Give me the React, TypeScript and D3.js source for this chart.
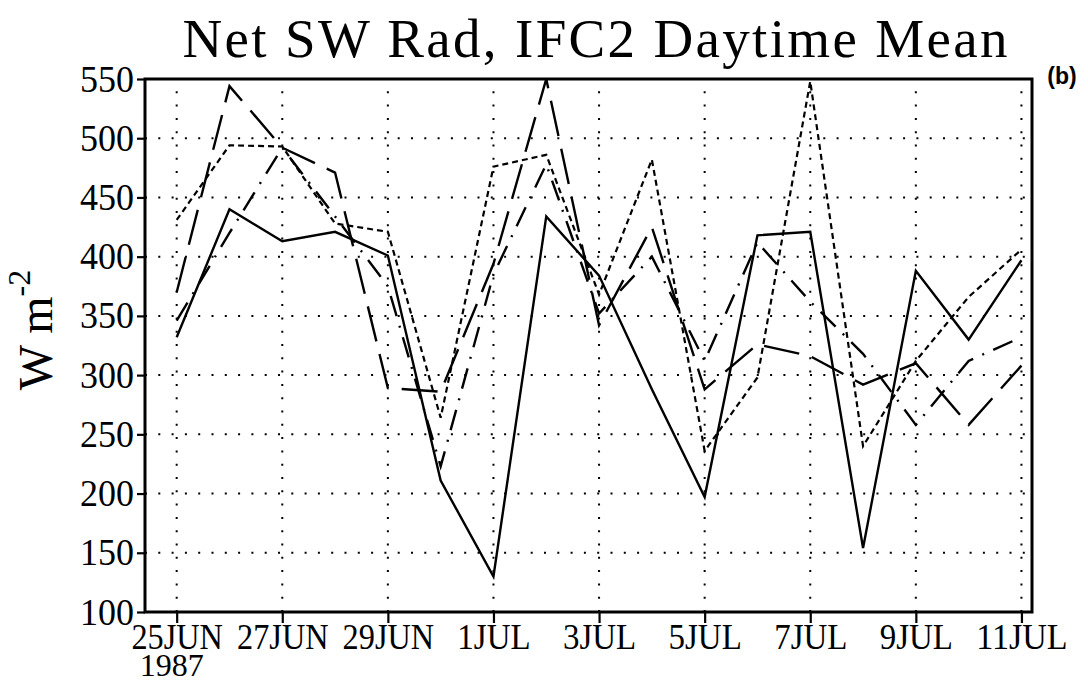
import * as d3 from "d3";
import { useEffect, useRef } from "react";

// daily values, 25 Jun - 11 Jul 1987
const dates = [
  "1987-06-25", "1987-06-26", "1987-06-27", "1987-06-28", "1987-06-29",
  "1987-06-30", "1987-07-01", "1987-07-02", "1987-07-03", "1987-07-04",
  "1987-07-05", "1987-07-06", "1987-07-07", "1987-07-08", "1987-07-09",
  "1987-07-10", "1987-07-11",
];
const solidSeries = [332, 440, 413, 421, 401, 211, 130, 434, 384, 288, 197, 418, 421, 154, 388, 330, 397];
const shortDashSeries = [431, 494, 493, 428, 421, 264, 476, 486, 368, 482, 236, 298, 548, 240, 312, 366, 406];
const longDashSeries = [370, 544, 492, 471, 289, 286, 394, 550, 342, 425, 288, 326, 316, 292, 310, 258, 308];
const dashDotSeries = [346, 420, 492, 434, 375, 223, 385, 478, 352, 400, 312, 412, 362, 318, 258, 312, 332];

const xTickDates = [
  "1987-06-25", "1987-06-27", "1987-06-29", "1987-07-01", "1987-07-03",
  "1987-07-05", "1987-07-07", "1987-07-09", "1987-07-11",
];
const yTicks = [100, 150, 200, 250, 300, 350, 400, 450, 500, 550];

const width = 1088;
const height = 683;
const margin = { top: 79, right: 56, bottom: 71, left: 145 };
const font = "'Liberation Serif', 'DejaVu Serif', serif";

const parse = d3.timeParse("%Y-%m-%d");

function drawChart(node: SVGSVGElement) {
  const svg = d3.select(node);
  svg.selectAll("*").remove();

  const innerW = width - margin.left - margin.right;
  const innerH = height - margin.top - margin.bottom;

  const x = d3
    .scaleTime()
    .domain([new Date(1987, 5, 24, 9, 36), new Date(1987, 6, 11, 4, 48)])
    .range([margin.left, margin.left + innerW]);
  const y = d3
    .scaleLinear()
    .domain([100, 550])
    .range([margin.top + innerH, margin.top]);

  svg
    .append("clipPath")
    .attr("id", "plot-clip")
    .append("rect")
    .attr("x", margin.left)
    .attr("y", margin.top)
    .attr("width", innerW)
    .attr("height", innerH);

  // dotted grid
  const grid = svg
    .append("g")
    .attr("stroke", "#000")
    .attr("stroke-width", 2)
    .attr("stroke-dasharray", "2,11.3");
  grid
    .selectAll("line.vgrid")
    .data(xTickDates)
    .enter()
    .append("line")
    .attr("x1", (d) => x(parse(d) as Date))
    .attr("x2", (d) => x(parse(d) as Date))
    .attr("y1", margin.top + innerH)
    .attr("y2", margin.top);
  grid
    .selectAll("line.hgrid")
    .data(yTicks.slice(1, -1))
    .enter()
    .append("line")
    .attr("x1", margin.left)
    .attr("x2", margin.left + innerW)
    .attr("y1", (d) => y(d))
    .attr("y2", (d) => y(d));

  // series
  const series = [
    { values: solidSeries, dash: null, w: 2.4 },
    { values: shortDashSeries, dash: "6,4", w: 2.2 },
    { values: longDashSeries, dash: "36,13", w: 2.4 },
    { values: dashDotSeries, dash: "21,10,2,10", w: 2.4 },
  ];
  const line = d3
    .line<number>()
    .x((d, i) => x(parse(dates[i]) as Date))
    .y((d) => y(d));

  const lines = svg.append("g").attr("clip-path", "url(#plot-clip)");
  series.forEach((s) => {
    lines
      .append("path")
      .datum(s.values)
      .attr("d", line)
      .attr("fill", "none")
      .attr("stroke", "#000")
      .attr("stroke-width", s.w)
      .attr("stroke-linejoin", "miter")
      .attr("stroke-dasharray", s.dash);
  });

  // frame
  svg
    .append("rect")
    .attr("x", margin.left)
    .attr("y", margin.top)
    .attr("width", innerW)
    .attr("height", innerH)
    .attr("fill", "none")
    .attr("stroke", "#000")
    .attr("stroke-width", 3);

  // x axis
  const fmt = d3.timeFormat("%-d%b");
  const xAxis = svg
    .append("g")
    .attr("transform", `translate(0,${margin.top + innerH})`)
    .call(
      d3
        .axisBottom(x)
        .tickValues(xTickDates.map((d) => parse(d) as Date))
        .tickFormat((d) => fmt(d as Date).toUpperCase())
        .tickSize(11)
        .tickSizeOuter(0)
    );
  xAxis.select(".domain").remove();
  xAxis.selectAll("line").attr("stroke-width", 2.2);
  xAxis
    .selectAll("text")
    .attr("y", 37)
    .attr("dy", null)
    .attr("fill", "#000")
    .attr("textLength", (d: any) => fmt(d).length * 18.3)
    .attr("lengthAdjust", "spacingAndGlyphs")
    .style("font-family", font)
    .style("font-size", "36px");

  // year under the first date
  svg
    .append("text")
    .attr("x", x(parse(dates[0]) as Date) - 5)
    .attr("y", 676)
    .attr("text-anchor", "middle")
    .attr("textLength", 64)
    .attr("lengthAdjust", "spacingAndGlyphs")
    .style("font-family", font)
    .style("font-size", "32px")
    .text("1987");

  // y axis
  const yAxis = svg
    .append("g")
    .attr("transform", `translate(${margin.left},0)`)
    .call(d3.axisLeft(y).tickValues(yTicks).tickSize(8).tickSizeOuter(0));
  yAxis.select(".domain").remove();
  yAxis.selectAll("line").attr("stroke-width", 2.2);
  yAxis
    .selectAll("text")
    .attr("x", -11)
    .attr("dy", null)
    .attr("y", 12)
    .attr("fill", "#000")
    .attr("textLength", 54)
    .attr("lengthAdjust", "spacingAndGlyphs")
    .style("font-family", font)
    .style("font-size", "37px");

  // y label
  const yLabel = svg
    .append("text")
    .attr("transform", "translate(52,330) rotate(-90)")
    .attr("text-anchor", "middle")
    .style("font-family", font)
    .style("font-size", "48px");
  yLabel.append("tspan").text("W m");
  yLabel
    .append("tspan")
    .attr("dy", -22)
    .style("font-size", "32px")
    .text("-2");

  // title
  svg
    .append("text")
    .attr("x", 595)
    .attr("y", 57)
    .attr("text-anchor", "middle")
    .attr("textLength", 825)
    .attr("lengthAdjust", "spacing")
    .style("font-family", font)
    .style("font-size", "55px")
    .text("Net SW Rad, IFC2 Daytime Mean");

  svg
    .append("text")
    .attr("x", 1062)
    .attr("y", 84)
    .attr("text-anchor", "middle")
    .style("font-family", "'Liberation Sans', Arial, sans-serif")
    .style("font-size", "23px")
    .style("font-weight", "bold")
    .text("(b)");
}

function App() {
  const ref = useRef<SVGSVGElement>(null);
  useEffect(() => {
    if (ref.current) drawChart(ref.current);
  }, []);
  return (
    <div style={{ position: "absolute", left: 0, top: 0 }}>
      <svg ref={ref} width={width} height={height} style={{ display: "block", background: "#fff" }}></svg>
    </div>
  );
}

export default App;
